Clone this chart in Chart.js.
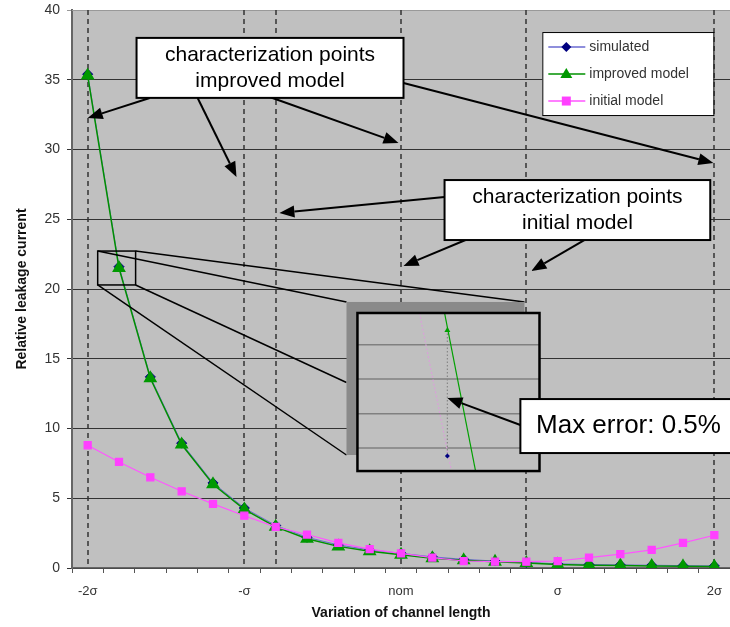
<!DOCTYPE html>
<html>
<head>
<meta charset="utf-8">
<script src="https://cdn.jsdelivr.net/npm/chart.js@4.4.1/dist/chart.umd.min.js"></script>
<style>
  html, body { margin:0; padding:0; background:#fff; }
  #wrap { width:730px; height:627px; }
</style>
</head>
<body>
<div id="wrap"><canvas id="chart"></canvas></div>
<script>
// channel length variation, in sigma
const sigmaPos = [-2,-1.8,-1.6,-1.4,-1.2,-1,-0.8,-0.6,-0.4,-0.2,0,0.2,0.4,0.6,0.8,1,1.2,1.4,1.6,1.8,2];
const xTickLabels = ['-2σ','-σ','nom','σ','2σ'];

const simulated = [35.4,21.6,13.7,8.95,6.1,4.3,3.05,2.2,1.65,1.3,1.05,0.8,0.62,0.5,0.4,0.3,0.25,0.22,0.2,0.17,0.15];
const improved  = [35.3,21.5,13.6,8.85,6.0,4.2,2.95,2.1,1.55,1.2,0.95,0.7,0.55,0.45,0.35,0.25,0.2,0.18,0.15,0.12,0.1];
const initial   = [8.8,7.6,6.5,5.5,4.6,3.75,2.95,2.4,1.8,1.35,1.05,0.75,0.5,0.45,0.45,0.5,0.75,1.0,1.3,1.8,2.35];

// characterization points (sigma)
const charImproved = [-2,-1,0,2];
const charInitial  = [-0.8,0,0.8];

const idxOf = s => Math.round((s + 2) * 5);

function arrow(ctx, x1, y1, x2, y2){
  const a = Math.atan2(y2 - y1, x2 - x1), L = 15, W = 6;
  const bx = x2 - L * Math.cos(a), by = y2 - L * Math.sin(a);
  ctx.beginPath(); ctx.moveTo(x1, y1); ctx.lineTo(bx, by); ctx.stroke();
  ctx.beginPath();
  ctx.moveTo(x2, y2);
  ctx.lineTo(bx + W * Math.sin(a), by - W * Math.cos(a));
  ctx.lineTo(bx - W * Math.sin(a), by + W * Math.cos(a));
  ctx.closePath(); ctx.fill();
}

function textBox(ctx, P, b, lines, size, cx){
  const [x0, y0] = P(b.x0, b.y0), [x1, y1] = P(b.x1, b.y1);
  ctx.fillStyle = '#fff'; ctx.fillRect(x0, y0, x1 - x0, y1 - y0);
  ctx.lineWidth = 2; ctx.strokeStyle = '#000'; ctx.strokeRect(x0, y0, x1 - x0, y1 - y0);
  ctx.fillStyle = '#000';
  ctx.font = size + 'px "Liberation Sans", Arial, sans-serif';
  ctx.textAlign = 'center'; ctx.textBaseline = 'middle';
  const mx = cx != null ? P(cx, 0)[0] : (x0 + x1) / 2, my = (y0 + y1) / 2;
  const lh = size * 1.25;
  lines.forEach((t, i) => ctx.fillText(t, mx, my + (i - (lines.length - 1) / 2) * lh));
}

const annot = {
  id: 'annot',
  beforeDraw(chart){
    const {ctx, chartArea:a} = chart;
    ctx.save();
    ctx.fillStyle = '#c0c0c0';
    ctx.fillRect(a.left, a.top, a.right - a.left, a.bottom - a.top);
    ctx.restore();
  },
  beforeDatasetsDraw(chart){
    const {ctx, chartArea:a, scales:{x}} = chart;
    ctx.save();
    ctx.strokeStyle = '#999'; ctx.lineWidth = 1;
    ctx.beginPath(); ctx.moveTo(a.left, a.top + 0.5); ctx.lineTo(a.right, a.top + 0.5); ctx.stroke();
    const cols = [...new Set([...charImproved, ...charInitial])];
    ctx.strokeStyle = '#333'; ctx.lineWidth = 1.5; ctx.setLineDash([5, 4]);
    cols.forEach(s => {
      const px = Math.round(x.getPixelForValue(idxOf(s)));
      ctx.beginPath(); ctx.moveTo(px, a.top); ctx.lineTo(px, a.bottom); ctx.stroke();
    });
    ctx.restore();
  },
  afterDatasetsDraw(chart){
    const {ctx, scales:{x, y}} = chart;
    const P = (i, v) => [x.getPixelForValue(i), y.getPixelForValue(v)];
    ctx.save();
    ctx.strokeStyle = '#000'; ctx.fillStyle = '#000';

    // zoom box around -1.8 sigma point and projection lines
    const zb = {x0:0.32, y0:22.72, x1:1.53, y1:20.29};
    const sh = {x0:8.26, y0:19.07, x1:13.94, y1:8.10};
    const ins = {x0:8.61, y0:18.28, x1:14.42, y1:6.95};
    ctx.lineWidth = 1.5;
    [[zb.x0, zb.y0, sh.x0, sh.y0], [zb.x1, zb.y0, sh.x1, sh.y0],
     [zb.x1, zb.y1, sh.x0, 13.3], [zb.x0, zb.y1, sh.x0, 8.1]].forEach(l => {
      const [a1, b1] = P(l[0], l[1]), [a2, b2] = P(l[2], l[3]);
      ctx.beginPath(); ctx.moveTo(a1, b1); ctx.lineTo(a2, b2); ctx.stroke();
    });
    {
      const [x0, y0] = P(zb.x0, zb.y0), [x1, y1] = P(zb.x1, zb.y1);
      ctx.strokeRect(x0, y0, x1 - x0, y1 - y0);
    }
    // shadow + inset
    {
      const [x0, y0] = P(sh.x0, sh.y0), [x1, y1] = P(sh.x1, sh.y1);
      ctx.fillStyle = '#8a8a8a'; ctx.fillRect(x0, y0, x1 - x0, y1 - y0);
      const [u0, v0] = P(ins.x0, ins.y0), [u1, v1] = P(ins.x1, ins.y1);
      ctx.fillStyle = '#c0c0c0'; ctx.fillRect(u0, v0, u1 - u0, v1 - v0);
      ctx.save();
      ctx.beginPath(); ctx.rect(u0, v0, u1 - u0, v1 - v0); ctx.clip();
      ctx.strokeStyle = '#808080'; ctx.lineWidth = 1.5;
      [16.0, 13.55, 11.05, 8.6].forEach(v => {
        const py = y.getPixelForValue(v);
        ctx.beginPath(); ctx.moveTo(u0, py); ctx.lineTo(u1, py); ctx.stroke();
      });
      // magnified curves
      ctx.setLineDash([2, 2]); ctx.strokeStyle = '#d9a0d9'; ctx.lineWidth = 1.2;
      let p1 = P(10.59, 18.28), p2 = P(11.61, 6.95);
      ctx.beginPath(); ctx.moveTo(...p1); ctx.lineTo(...p2); ctx.stroke();
      ctx.strokeStyle = '#888'; ctx.setLineDash([1.5, 2]);
      p1 = P(11.48, 17.06); p2 = P(11.48, 8.03);
      ctx.beginPath(); ctx.moveTo(...p1); ctx.lineTo(...p2); ctx.stroke();
      ctx.setLineDash([]);
      ctx.strokeStyle = '#00a000'; ctx.lineWidth = 1.2;
      p1 = P(11.39, 18.28); p2 = P(12.38, 6.95);
      ctx.beginPath(); ctx.moveTo(...p1); ctx.lineTo(...p2); ctx.stroke();
      const g = P(11.48, 17.06);
      ctx.fillStyle = '#00a000';
      ctx.beginPath(); ctx.moveTo(g[0], g[1] - 3); ctx.lineTo(g[0] + 3, g[1] + 2); ctx.lineTo(g[0] - 3, g[1] + 2); ctx.closePath(); ctx.fill();
      const d = P(11.48, 8.03);
      ctx.fillStyle = '#000080';
      ctx.beginPath(); ctx.moveTo(d[0], d[1] - 2.5); ctx.lineTo(d[0] + 2.5, d[1]); ctx.lineTo(d[0], d[1] + 2.5); ctx.lineTo(d[0] - 2.5, d[1]); ctx.closePath(); ctx.fill();
      ctx.restore();
      ctx.lineWidth = 2.5; ctx.strokeStyle = '#000';
      ctx.strokeRect(u0, v0, u1 - u0, v1 - v0);
    }

    // arrows
    ctx.fillStyle = '#000'; ctx.strokeStyle = '#000'; ctx.lineWidth = 2;
    const arrows = [
      [1.98, 33.69, 0, 32.26], [3.51, 33.69, 4.75, 28.03],
      [5.81, 33.76, 9.92, 30.47], [10.08, 34.77, 19.97, 29.03],
      [11.39, 26.59, 6.12, 25.45], [12.06, 23.51, 10.08, 21.65], [15.85, 23.51, 14.16, 21.29],
      [13.81, 10.25, 11.48, 12.19]
    ];
    arrows.forEach(r => { const [a1, b1] = P(r[0], r[1]), [a2, b2] = P(r[2], r[3]); arrow(ctx, a1, b1, a2, b2); });

    textBox(ctx, P, {x0:1.56, y0:38.0, x1:10.08, y1:33.7}, ['characterization points', 'improved model'], 21);
    textBox(ctx, P, {x0:11.39, y0:27.81, x1:19.87, y1:23.51}, ['characterization points', 'initial model'], 21);
    textBox(ctx, P, {x0:13.81, y0:12.11, x1:20.8, y1:8.24}, ['Max error: 0.5%'], 26, 17.26);

    // legend
    const [lx0, ly0] = P(14.51, 38.42), [lx1, ly1] = P(19.97, 32.47);
    ctx.fillStyle = '#fff'; ctx.fillRect(lx0, ly0, lx1 - lx0, ly1 - ly0);
    ctx.lineWidth = 1; ctx.strokeStyle = '#000'; ctx.strokeRect(lx0 + 0.5, ly0 + 0.5, lx1 - lx0, ly1 - ly0);
    chart.data.datasets.slice().sort((a, b) => a.legendRank - b.legendRank).forEach((ds, i) => {
      const cy = ly0 + 15 + i * 27, mx = lx0 + 24;
      ctx.strokeStyle = ds.borderColor; ctx.lineWidth = 1.5;
      ctx.beginPath(); ctx.moveTo(lx0 + 6, cy); ctx.lineTo(lx0 + 43, cy); ctx.stroke();
      ctx.fillStyle = ds.pointBackgroundColor;
      ctx.beginPath();
      if (ds.pointStyle === 'rectRot') { ctx.moveTo(mx, cy - 5); ctx.lineTo(mx + 5, cy); ctx.lineTo(mx, cy + 5); ctx.lineTo(mx - 5, cy); }
      else if (ds.pointStyle === 'triangle') { ctx.moveTo(mx, cy - 6); ctx.lineTo(mx + 6, cy + 4); ctx.lineTo(mx - 6, cy + 4); }
      else { ctx.rect(mx - 4.5, cy - 4.5, 9, 9); }
      ctx.closePath(); ctx.fill();
      ctx.fillStyle = '#333'; ctx.font = '14px "Liberation Sans", Arial, sans-serif';
      ctx.textAlign = 'left'; ctx.textBaseline = 'middle';
      ctx.fillText(ds.label, lx0 + 47, cy);
    });
    ctx.restore();
  }
};

Chart.defaults.font.family = '"Liberation Sans", Arial, sans-serif';

new Chart(document.getElementById('chart'), {
  type: 'line',
  data: {
    labels: sigmaPos,
    datasets: [
      { label:'simulated', data:simulated, legendRank:0, order:2,
        borderColor:'#6a6ad0', borderWidth:1, pointStyle:'rectRot', pointRadius:5,
        pointBackgroundColor:'#000080', pointBorderColor:'#000080', tension:0 },
      { label:'improved model', data:improved, legendRank:1, order:1,
        borderColor:'#009000', borderWidth:1.5, pointStyle:'triangle', pointRadius:6.5,
        pointBackgroundColor:'#009900', pointBorderColor:'#009900', tension:0 },
      { label:'initial model', data:initial, legendRank:2, order:0,
        borderColor:'#ff55ff', borderWidth:1.2, pointStyle:'rect', pointRadius:5,
        pointBackgroundColor:'#ff40ff', pointBorderColor:'#ff40ff', tension:0 }
    ]
  },
  options: {
    responsive:true, maintainAspectRatio:false, animation:false,
    layout:{ autoPadding:false, padding:{ top:10, right:0, bottom:0, left:0 } },
    plugins:{ legend:{ display:false }, tooltip:{ enabled:false } },
    scales:{
      x:{ type:'category', offset:true,
        grid:{ offset:true, drawOnChartArea:false, drawTicks:true, tickLength:5, color:'#555', lineWidth:1 },
        border:{ color:'#666', width:1.5 },
        ticks:{ autoSkip:false, maxRotation:0, padding:11, color:'#333', font:{ size:13 },
          callback:(v, i) => i % 5 === 0 ? xTickLabels[i / 5] : '' },
        title:{ display:true, text:'Variation of channel length', color:'#111',
          font:{ size:14, weight:'bold' }, padding:{ top:0, bottom:5 } },
        afterFit: s => { s.height = 59; s.paddingLeft = 0; s.paddingRight = 0; }
      },
      y:{ min:0, max:40,
        ticks:{ stepSize:5, padding:7, color:'#333', font:{ size:14 } },
        grid:{ color: c => c.tick && c.tick.value === 40 ? '#999' : '#333', tickLength:5, lineWidth:1 },
        border:{ color:'#666', width:2 },
        title:{ display:true, text:'Relative leakage current', color:'#111',
          font:{ size:14, weight:'bold' }, padding:{ top:14, bottom:0 } },
        afterFit: s => { s.width = 72; s.paddingTop = 0; s.paddingBottom = 0; }
      }
    }
  },
  plugins:[annot]
});
</script>
</body>
</html>
